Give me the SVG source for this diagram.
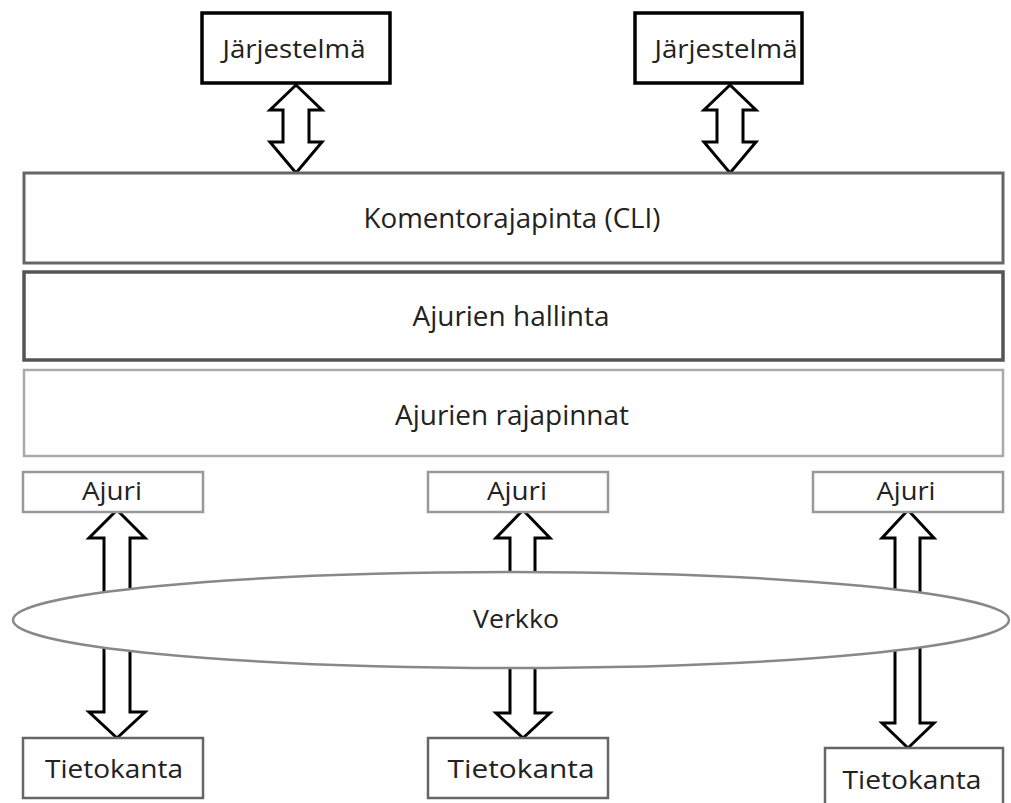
<svg xmlns="http://www.w3.org/2000/svg" width="1011" height="803" viewBox="0 0 1011 803">
<style>
text{font-family:"Open Sans","Liberation Sans",sans-serif;fill:#222;text-anchor:middle}
.big{font-size:27px}
.sm{font-size:25px}
.arrow{fill:#fff;stroke:#000;stroke-width:3;stroke-linejoin:miter}
</style>
<rect width="1011" height="803" fill="#fff"/>
<g id="connectors">
<polygon class="arrow" points="296,85 322,110 309,110 309,142 322,142 296,173 270,142 283,142 283,110 270,110"/>
<polygon class="arrow" points="730,85 756,110 743,110 743,142 756,142 730,173 704,142 717,142 717,110 704,110"/>
<polygon class="arrow" points="117,510 145,538 130,538 130,712 145,712 117,738 89,712 104,712 104,538 89,538"/>
<polygon class="arrow" points="523,510 550,538 535,538 535,713 550,713 523,738 496,713 510,713 510,538 496,538"/>
<polygon class="arrow" points="908,510 934,538 920,538 920,723 934,723 908,748 882,723 895,723 895,538 882,538"/>
</g>
<g id="sys1"><rect x="202" y="13" width="188" height="70" fill="#fff" stroke="#000" stroke-width="3.5"/><text class="sm" x="294" y="58" textLength="143" lengthAdjust="spacingAndGlyphs">Järjestelmä</text></g>
<g id="sys2"><rect x="635" y="13" width="167" height="70" fill="#fff" stroke="#000" stroke-width="3.5"/><text class="sm" x="726" y="58" textLength="143" lengthAdjust="spacingAndGlyphs">Järjestelmä</text></g>
<g id="cli"><rect x="24" y="173" width="979" height="90" fill="#fff" stroke="#666" stroke-width="3"/><text class="big" x="512" y="228" textLength="297" lengthAdjust="spacingAndGlyphs">Komentorajapinta (CLI)</text></g>
<g id="hallinta"><rect x="24" y="272" width="979" height="88" fill="#fff" stroke="#555" stroke-width="3.5"/><text class="big" x="511" y="326" textLength="197" lengthAdjust="spacingAndGlyphs">Ajurien hallinta</text></g>
<g id="rajapinnat"><rect x="24" y="370" width="979" height="86" fill="#fff" stroke="#aaa" stroke-width="2.5"/><text class="big" x="512" y="425" textLength="234" lengthAdjust="spacingAndGlyphs">Ajurien rajapinnat</text></g>
<g id="ajuri1"><rect x="23" y="472" width="180" height="40" fill="#fff" stroke="#999" stroke-width="2.5"/><text class="sm" x="112" y="500" textLength="60" lengthAdjust="spacingAndGlyphs">Ajuri</text></g>
<g id="ajuri2"><rect x="428" y="472" width="180" height="40" fill="#fff" stroke="#999" stroke-width="2.5"/><text class="sm" x="517" y="500" textLength="60" lengthAdjust="spacingAndGlyphs">Ajuri</text></g>
<g id="ajuri3"><rect x="813" y="472" width="190" height="40" fill="#fff" stroke="#999" stroke-width="2.5"/><text class="sm" x="906" y="500" textLength="59" lengthAdjust="spacingAndGlyphs">Ajuri</text></g>
<g id="verkko"><ellipse cx="511" cy="620" rx="498" ry="48" fill="#fff" stroke="#888" stroke-width="2.5"/><text class="sm" x="516" y="628" textLength="86" lengthAdjust="spacingAndGlyphs">Verkko</text></g>
<g id="tieto1"><rect x="23" y="738" width="180" height="60" fill="#fff" stroke="#666" stroke-width="2.5"/><text class="sm" x="114" y="778" textLength="138" lengthAdjust="spacingAndGlyphs">Tietokanta</text></g>
<g id="tieto2"><rect x="428" y="738" width="180" height="60" fill="#fff" stroke="#666" stroke-width="2.5"/><text class="sm" x="521" y="778" textLength="147" lengthAdjust="spacingAndGlyphs">Tietokanta</text></g>
<g id="tieto3"><rect x="825" y="748" width="178" height="62" fill="#fff" stroke="#666" stroke-width="2.5"/><text class="sm" x="912" y="789" textLength="139" lengthAdjust="spacingAndGlyphs">Tietokanta</text></g>
</svg>
